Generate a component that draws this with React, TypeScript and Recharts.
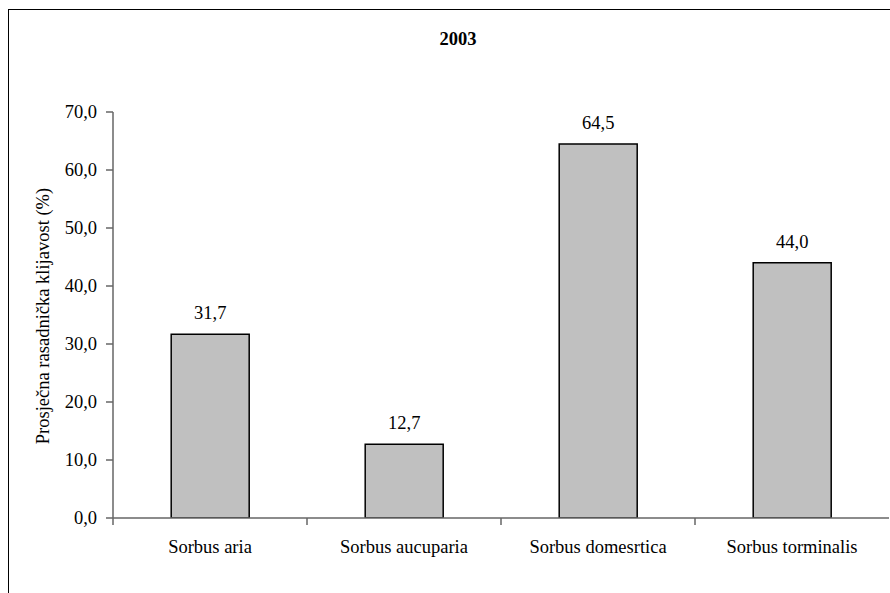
import React from "react";
import { BarChart, Bar, XAxis, YAxis, LabelList } from "recharts";

const species = ["Sorbus aria", "Sorbus aucuparia", "Sorbus domesrtica", "Sorbus torminalis"];
const germination = [31.7, 12.7, 64.5, 44.0];
const yTicks = [0, 10, 20, 30, 40, 50, 60, 70];

const data = species.map((name, i) => ({ name, value: germination[i] }));

const FONT = "'Liberation Serif', 'Times New Roman', serif";
const AXIS = "#666";
const W = 890;
const H = 593;
const M = { top: 112, right: 1, left: 53, bottom: 35 };
const Y_W = 60;
const textStyle = { fontFamily: FONT, fontSize: 18.5, fill: "#000" };

const fmt = (v: number) => v.toFixed(1).replace(".", ",");

function CategoryTick(props: any) {
  const { x, y, payload } = props;
  const fallback = (W - M.left - Y_W - M.right) / species.length / 2;
  const half = typeof payload?.offset === "number" && payload.offset > 0 ? payload.offset : fallback;
  return (
    <g>
      <line x1={x - half} x2={x - half} y1={y} y2={y + 7} stroke={AXIS} strokeWidth={1.5} />
      <text x={x} y={y + 35} textAnchor="middle" style={textStyle}>
        {payload.value}
      </text>
    </g>
  );
}

function YTick(props: any) {
  const { x, y, payload } = props;
  return (
    <text x={x} y={y} dy={6} textAnchor="end" style={textStyle}>
      {fmt(payload.value)}
    </text>
  );
}

export default function App() {
  return (
    <div style={{ position: "absolute", left: 0, top: 0, width: W, height: H, overflow: "hidden", background: "#fff" }}>
      <div
        style={{
          position: "absolute",
          left: 8,
          top: 9,
          width: 900,
          height: 600,
          border: "1.5px solid #000",
          boxSizing: "border-box",
        }}
      />
      <div
        style={{
          position: "absolute",
          left: 408,
          top: 29,
          width: 100,
          textAlign: "center",
          fontFamily: FONT,
          fontWeight: "bold",
          fontSize: 18.5,
          lineHeight: "20px",
        }}
      >
        2003
      </div>
      <div
        style={{
          position: "absolute",
          left: 43,
          top: 316,
          transform: "translate(-50%, -50%) rotate(-90deg)",
          whiteSpace: "nowrap",
          fontFamily: FONT,
          fontSize: 18.5,
          lineHeight: "20px",
        }}
      >
        Prosječna rasadnička klijavost (%)
      </div>
      <BarChart
        width={W}
        height={H}
        data={data}
        margin={M}
        barCategoryGap="30%"
        style={{ position: "absolute", left: 0, top: 0, fontFamily: FONT }}
      >
        <XAxis
          dataKey="name"
          height={40}
          axisLine={{ stroke: AXIS, strokeWidth: 1.5 }}
          tickLine={false}
          tickSize={0}
          tickMargin={0}
          tick={<CategoryTick />}
          interval={0}
        />
        <YAxis
          width={Y_W}
          domain={[0, 70]}
          ticks={yTicks}
          axisLine={{ stroke: AXIS, strokeWidth: 1.5 }}
          tickLine={{ stroke: AXIS, strokeWidth: 1.5 }}
          tickSize={7}
          tickMargin={9}
          tick={<YTick />}
          interval={0}
          allowDataOverflow
        />
        <Bar dataKey="value" fill="#c0c0c0" stroke="#000" strokeWidth={1.5} isAnimationActive={false}>
          <LabelList
            dataKey="value"
            position="top"
            offset={15}
            formatter={(v: any) => fmt(Number(v))}
            style={textStyle}
          />
        </Bar>
      </BarChart>
    </div>
  );
}
